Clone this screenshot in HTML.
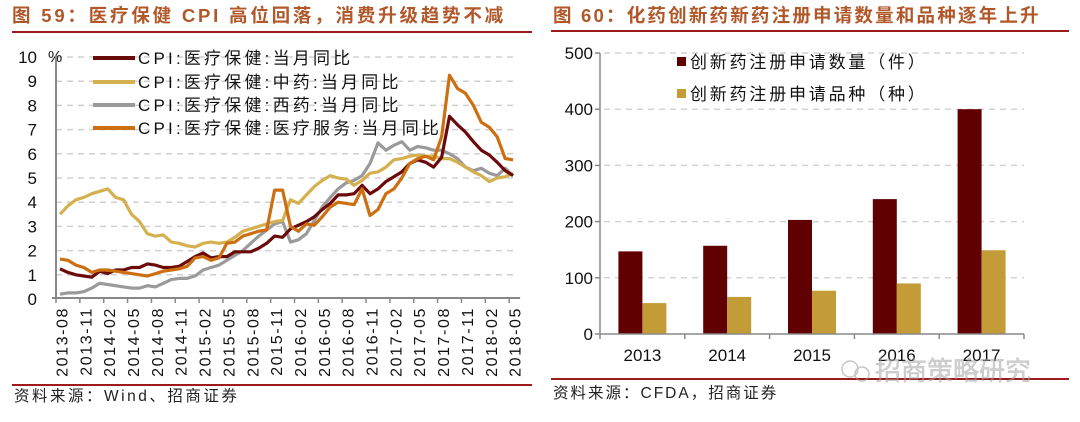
<!DOCTYPE html>
<html><head><meta charset="utf-8">
<style>
body{margin:0;width:1080px;height:417px;background:#fff;overflow:hidden;font-family:"Liberation Sans","Noto Sans CJK SC",sans-serif;}
svg text{font-family:"Liberation Sans","Noto Sans CJK SC",sans-serif;}
</style></head>
<body>
<svg id="chart" width="1080" height="417" xmlns="http://www.w3.org/2000/svg">
<text x="12" y="22" font-size="18.5" font-weight="bold" fill="#b0582a" letter-spacing="2.8">图 59：医疗保健 CPI 高位回落，消费升级趋势不减</text>
<rect x="12" y="31" width="520" height="2" fill="#9c1c1c"/>
<text x="553" y="22" font-size="18.5" font-weight="bold" fill="#b0582a" letter-spacing="2.2">图 60：化药创新药新药注册申请数量和品种逐年上升</text>
<rect x="551" y="30" width="518" height="2" fill="#9c1c1c"/>
<rect x="12" y="384" width="520" height="2" fill="#9c1c1c"/>
<rect x="551" y="378" width="518" height="2" fill="#9c1c1c"/>
<text x="14" y="401" font-size="15.5" fill="#222" letter-spacing="2.5">资料来源：Wind、招商证券</text>
<text x="553" y="398" font-size="15.5" fill="#222" letter-spacing="2">资料来源：CFDA，招商证券</text>
<g id="left"></g>
<g id="right"></g>
<g opacity="0.55">
<circle cx="850" cy="369" r="8" fill="none" stroke="#999" stroke-width="1.5"/>
<circle cx="862" cy="374" r="7" fill="none" stroke="#999" stroke-width="1.5"/>
<text x="875" y="380" font-size="26" fill="#aaa" stroke="#888" stroke-width="0.4">招商策略研究</text>
</g>
</svg>
<script>
const months = ["2013-08","2013-11","2014-02","2014-05","2014-08","2014-11","2015-02","2015-05","2015-08","2015-11","2016-02","2016-05","2016-08","2016-11","2017-02","2017-05","2017-08","2017-11","2018-02","2018-05"];
const yTicks = [0,1,2,3,4,5,6,7,8,9,10];
const total = [1.25,1.1,1.0,0.95,0.9,1.15,1.05,1.2,1.2,1.3,1.3,1.45,1.4,1.3,1.3,1.35,1.55,1.75,1.9,1.7,1.75,1.75,1.95,1.95,1.95,2.1,2.3,2.6,2.55,2.9,3.05,3.2,3.4,3.7,3.95,4.3,4.3,4.35,4.7,4.35,4.55,4.85,5.05,5.25,5.6,5.75,5.65,5.45,5.85,7.55,7.2,6.9,6.5,6.15,5.95,5.65,5.3,5.1];
const tcm = [3.5,3.85,4.1,4.2,4.35,4.45,4.55,4.2,4.1,3.5,3.2,2.7,2.6,2.65,2.35,2.3,2.2,2.15,2.3,2.35,2.3,2.35,2.55,2.8,2.9,3.0,3.1,3.2,3.25,4.1,3.95,4.3,4.65,4.9,5.1,5.0,4.95,4.7,4.9,5.2,5.25,5.45,5.75,5.8,5.9,5.95,5.9,5.9,5.8,5.8,5.65,5.45,5.25,5.1,4.85,5.0,5.05,5.2];
const western = [0.2,0.25,0.25,0.3,0.45,0.65,0.6,0.55,0.5,0.45,0.45,0.55,0.5,0.65,0.8,0.85,0.85,0.95,1.2,1.3,1.4,1.6,1.8,2.0,2.3,2.6,2.85,3.1,3.2,2.35,2.45,2.7,3.25,3.8,4.2,4.55,4.8,4.9,5.1,5.6,6.45,6.15,6.35,6.5,6.15,6.3,6.25,6.15,6.15,6.0,5.8,5.45,5.3,5.4,5.2,5.1,5.4,5.1];
const service = [1.65,1.6,1.4,1.3,1.1,1.2,1.2,1.15,1.1,1.05,1.0,0.95,1.05,1.15,1.2,1.25,1.35,1.7,1.75,1.6,1.7,2.3,2.35,2.6,2.7,2.8,2.85,4.5,4.5,3.0,2.8,3.1,3.05,3.4,3.8,4.0,3.95,3.9,4.55,3.45,3.7,4.35,4.55,5.0,5.6,5.8,5.9,5.75,6.7,9.25,8.7,8.5,8.0,7.3,7.1,6.7,5.8,5.75];
const lineNames = ["CPI:医疗保健:当月同比","CPI:医疗保健:中药:当月同比","CPI:医疗保健:西药:当月同比","CPI:医疗保健:医疗服务:当月同比"];

const years = ["2013","2014","2015","2016","2017"];
const applications = [147,157,203,240,400];
const varieties = [55,66,77,90,149];
const barTicks = [0,100,200,300,400,500];
const barNames = ["创新药注册申请数量（件）","创新药注册申请品种（种）"];

const NS="http://www.w3.org/2000/svg";
function mk(tag,attrs,parent,txt){const e=document.createElementNS(NS,tag);for(const k in attrs)e.setAttribute(k,attrs[k]);if(txt!==undefined)e.textContent=txt;parent.appendChild(e);return e;}

// LEFT
const L=document.getElementById('left');
const lx0=56, step=7.95, ly0=299, unit=24.2;
const xL=i=>lx0+(i+0.5)*step;
const yL=v=>ly0-v*unit;
yTicks.forEach(t=>{
  if(t>0){const g=mk('line',{x1:lx0,x2:517,y1:yL(t),y2:yL(t),stroke:'#d0d0d0','stroke-width':1.5,'stroke-dasharray':'6,5'},L);
  
  }
  const tl=mk('text',{x:37,y:yL(t)+6,'font-size':17,'text-anchor':'end',fill:'#111'},L,String(t));
  
  
});
const pct=mk('text',{x:48,y:62,'font-size':16,fill:'#111'},L,'%');


const ya=mk('line',{x1:lx0,x2:lx0,y1:yL(10)-2,y2:ly0,stroke:'#888','stroke-width':2},L);


const nM=total.length;
const xa=mk('line',{x1:lx0-4,x2:lx0+nM*step+3,y1:ly0-1,y2:ly0-1,stroke:'#888','stroke-width':2},L);


months.forEach((m,k)=>{
  const i=k*3;
  const tk=mk('line',{x1:lx0+i*step,x2:lx0+i*step,y1:ly0-1,y2:ly0+4,stroke:'#888','stroke-width':1.5},L);
  
  
  const cx=xL(i)+1.5, cy=ly0+8;
  const t=mk('text',{x:cx,y:cy+6,'font-size':16,'letter-spacing':'1.6','text-anchor':'end',fill:'#111',transform:`rotate(-90 ${cx} ${cy})`},L,m);
  
  
});
const series=[[total,'#6b0a0a','series-cpi-healthcare'],[tcm,'#d4b04f','series-cpi-tcm'],[western,'#9a9a9a','series-cpi-western-medicine'],[service,'#cc6f10','series-cpi-medical-service']];
[2,1,0,3].forEach(s=>{
  const [d,c,n]=series[s];
  const p=mk('polyline',{points:d.map((v,i)=>xL(i).toFixed(1)+','+yL(v).toFixed(1)).join(' '),fill:'none',stroke:c,'stroke-width':3.2,'stroke-linejoin':'round'},L);
  
  
});
const legY=[58,82,105,128];
series.forEach((s,k)=>{
  const ln=mk('line',{x1:93,x2:135,y1:legY[k],y2:legY[k],stroke:s[1],'stroke-width':4},L);
  
  
  const t=mk('text',{x:138,y:legY[k]+6,'font-size':17,'letter-spacing':'3.2',fill:'#111'},L,lineNames[k]);
  
  
});

// RIGHT
const R=document.getElementById('right');
const rx0=600, rx1=1024, ry0=334, runit=(334-53)/500;
const yR=v=>ry0-v*runit;
const cw=(rx1-rx0)/years.length, bw=24;
barTicks.forEach(t=>{
  if(t>0){const g=mk('line',{x1:rx0+4,x2:rx1,y1:yR(t),y2:yR(t),stroke:'#d4d4d4','stroke-width':1.5,'stroke-dasharray':'6,5'},R);
  
  }
  const l=mk('text',{x:593,y:yR(t)+6,'font-size':17,'text-anchor':'end',fill:'#111'},R,String(t));
  
  
  const tk=mk('line',{x1:rx0-5,x2:rx0,y1:yR(t),y2:yR(t),stroke:'#888','stroke-width':1.5},R);
  
  
});
const rya=mk('line',{x1:rx0,x2:rx0,y1:yR(500),y2:ry0+1,stroke:'#888','stroke-width':1.5},R);


years.forEach((y,k)=>{
  const c=rx0+cw*k+cw/2;
  const b1=mk('rect',{x:c-bw,y:yR(applications[k]),width:bw,height:applications[k]*runit,fill:'#600000'},R);
  
  
  const b2=mk('rect',{x:c,y:yR(varieties[k]),width:bw,height:varieties[k]*runit,fill:'#c39c38'},R);
  
  
  const t=mk('text',{x:c,y:361,'font-size':17,'text-anchor':'middle',fill:'#111'},R,y);
  
  
});
for(let k=0;k<=years.length;k++){
  const tk=mk('line',{x1:rx0+cw*k,x2:rx0+cw*k,y1:ry0,y2:ry0+5,stroke:'#888','stroke-width':1.5},R);
  
  
}
const rxa=mk('line',{x1:rx0,x2:rx1,y1:ry0,y2:ry0,stroke:'#888','stroke-width':1.5},R);


const lc=['#600000','#c39c38'], ly=[62,94];
barNames.forEach((n,k)=>{
  const s=mk('rect',{x:677,y:ly[k]-5,width:9,height:9,fill:lc[k]},R);
  
  
  const t=mk('text',{x:690,y:ly[k]+6,'font-size':17,fill:'#111','letter-spacing':'2.8'},R,n);
  
  
});
</script>
</body></html>
